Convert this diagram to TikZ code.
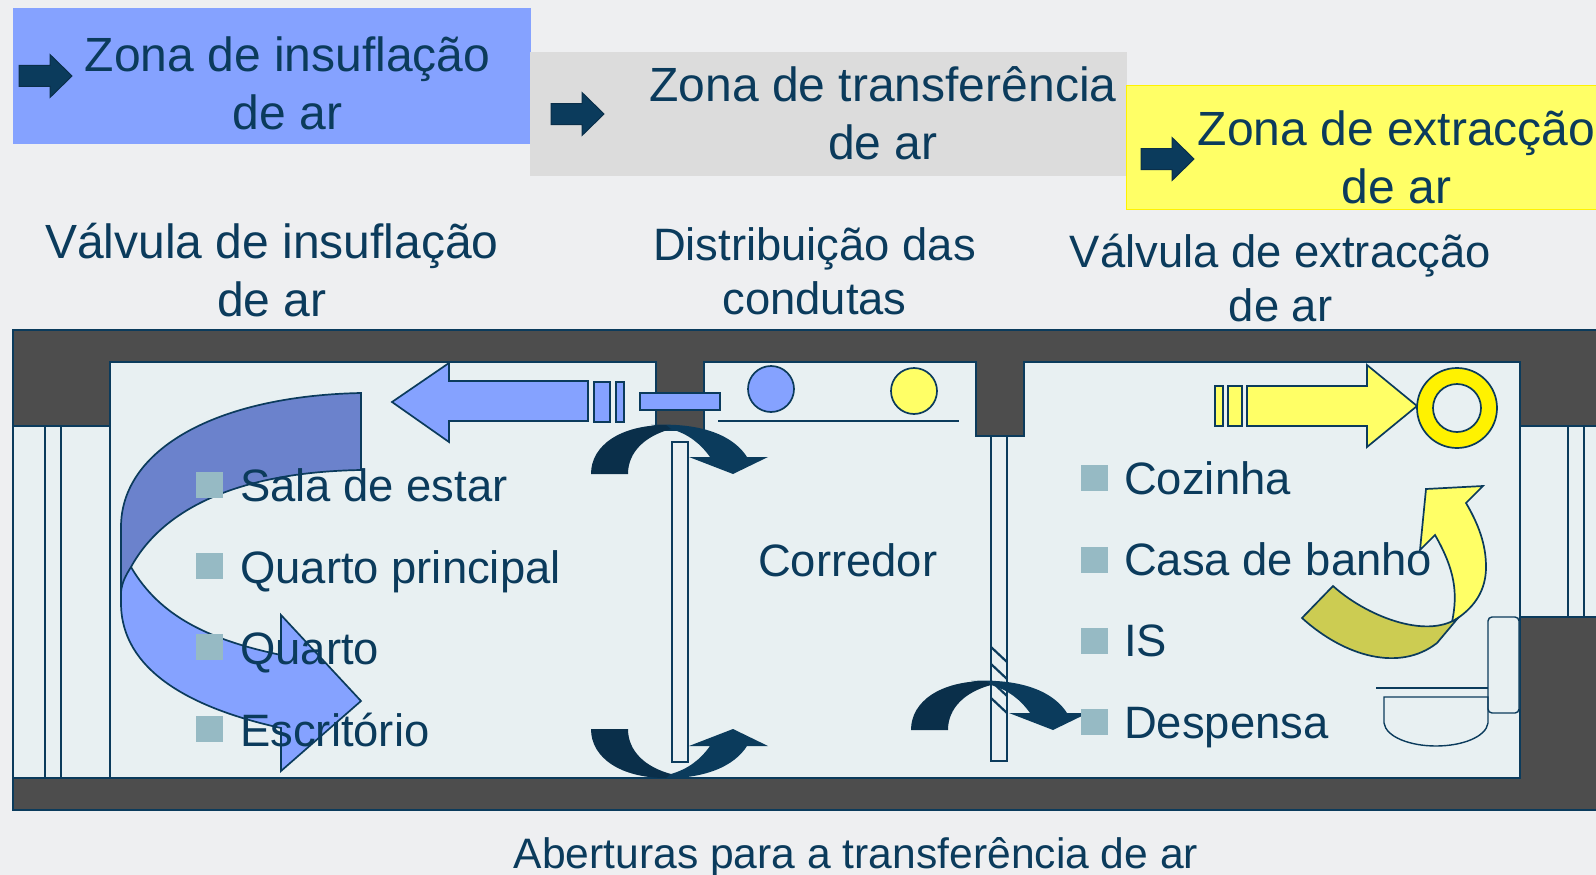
\documentclass[tikz,border=0pt]{standalone}
\usepackage{fontspec}
\setmainfont{Liberation Sans}
\definecolor{bgc}{HTML}{EEEFF1}
\definecolor{roomc}{HTML}{E8F0F2}
\definecolor{wallc}{HTML}{4D4D4D}
\definecolor{inkc}{HTML}{0B3B5C}
\definecolor{inkd}{HTML}{0A2F4A}
\definecolor{bluec}{HTML}{85A2FF}
\definecolor{blued}{HTML}{6B82CC}
\definecolor{grayc}{HTML}{DCDCDC}
\definecolor{yelc}{HTML}{FFFF66}
\definecolor{olivec}{HTML}{CCCC52}
\definecolor{bullc}{HTML}{96BAC4}
\newcommand{\tstr}{\rule[-10pt]{0pt}{46pt}}
\tikzset{
  x=1pt,y=-1pt,
  outl/.style={draw=inkc,line width=1.7pt,line join=miter},
  room/.style={outl,fill=roomc},
  wall/.style={fill=wallc},
  bluep/.style={outl,fill=bluec},
  yelp/.style={outl,fill=yelc},
  bull/.style={fill=bullc},
  big/.style={text=inkc,inner sep=0pt,align=center,font=\fontsize{48}{58}\selectfont},
  mid/.style={text=inkc,inner sep=0pt,align=center,font=\fontsize{45.4}{54}\selectfont},
  lab/.style={text=inkc,inner sep=0pt,anchor=base west,font=\fontsize{45.4}{54}\selectfont},
}
\newcommand{\titlearrow}[2]{%
  \filldraw[fill=inkc,draw=inkd,line width=1pt,shift={(#1,#2)}] (0,-10.5) -- (31,-10.5) -- (31,-21.5) -- (53,0) -- (31,21.5) -- (31,10.5) -- (0,10.5) -- cycle;}
\newcommand{\flowshape}{%
  \fill[inkc] (60,-49) .. controls (115,-52) and (144,-36) .. (156,-17) -- (177,-17) -- (142,0) -- (98,-17) -- (119,-17) .. controls (109,-31) and (97,-40) .. (80,-45) -- cycle;
  \fill[inkd] (0,0) .. controls (0,-29) and (30,-49) .. (75,-49) -- (80,-45) .. controls (54,-38) and (37,-22) .. (37,0) -- cycle;
}
\begin{document}
\begin{tikzpicture}
\useasboundingbox (0,0) rectangle (1596,875);
\fill[bgc] (0,0) rectangle (1596,875);

% zone boxes
\fill[bluec] (13,8) rectangle (531,144);
\fill[grayc] (530,52) rectangle (1127,176);
\filldraw[fill=yelc,draw=yellow,line width=0.8pt] (1126,85) rectangle (1597,209);
\titlearrow{19}{76}
\titlearrow{551}{114}
\titlearrow{1141}{159}

% building
\fill[wall] (13,330) rectangle (1597,810);
\draw[outl] (1597,330) -- (13,330) -- (13,810) -- (1597,810);
\path[room] (110,362) rectangle (1520,778);
\path[room] (13,426) rectangle (110,778);
\draw[outl] (45,426) -- (45,778);
\draw[outl] (61,426) -- (61,778);
\path[outl,fill=roomc] (1597,426) -- (1520,426) -- (1520,617) -- (1597,617);
\draw[outl] (1568,426) -- (1568,617);
\draw[outl] (1584,426) -- (1584,617);
\draw[outl,fill=wallc] (656,362) -- (656,430) -- (704,430) -- (704,362);
\fill[wall] (657,355) rectangle (703,363);
\draw[outl,fill=wallc] (976,362) -- (976,436) -- (1024,436) -- (1024,362);
\fill[wall] (977,355) rectangle (1023,363);
\draw[outl] (718,421) -- (959,421);

% doors
\draw[outl,fill=roomc] (672,442) rectangle (688,762);
\draw[outl,fill=roomc] (991,436) rectangle (1007,761);
\foreach \hy in {647,664,681,698}
  \draw[inkc,line width=2.2pt] (991,\hy) -- (1007,\hy+15);

% supply air
\draw[bluep] (640,393) rectangle (720,410);
\draw[bluep] (616,382) rectangle (624,422);
\draw[bluep] (594,382) rectangle (610,422);
\draw[bluep] (588,381) -- (449,381) -- (449,363) -- (392,402) -- (449,442) -- (449,421) -- (588,421) -- cycle;
\draw[bluep] (771,389) circle (23);
\draw[outl,fill=yelc] (914,391) circle (23);

% big blue curved arrow
\draw[bluep] (131,567) .. controls (160,617) and (210,640) .. (281,655) -- (281,615) -- (361,701) -- (281,771) -- (281,728)
  .. controls (190,708) and (121,670) .. (121,603) -- (121,570) -- cycle;
\draw[outl,fill=blued] (361,393) .. controls (215,396) and (121,450) .. (121,527) -- (121,592) .. controls (122,582) and (126,575) .. (131,567)
  .. controls (165,505) and (245,472) .. (361,470) -- cycle;

% transfer arrows
\begin{scope}[shift={(591,474)}]\flowshape\end{scope}
\begin{scope}[shift={(591,729)},yscale=-1]\flowshape\end{scope}
\begin{scope}[shift={(911,730)}]\flowshape\end{scope}

% extraction
\draw[yelp] (1215,386) rectangle (1223,426);
\draw[yelp] (1228,386) rectangle (1242,426);
\draw[yelp] (1247,386) -- (1367,386) -- (1367,365) -- (1417,406) -- (1367,447) -- (1367,426) -- (1247,426) -- cycle;
\draw[outl,fill=yellow] (1457,408) circle (40);
\path[room] (1457,408) circle (24);

% yellow curved arrow
\draw[yelp] (1452,622) .. controls (1458,593) and (1455,570) .. (1435,535) -- (1420,550) -- (1426,489) -- (1483,486) -- (1466,503)
  .. controls (1482,530) and (1486,550) .. (1486,567) .. controls (1486,590) and (1475,606) .. (1458,618) -- cycle;
\draw[outl,fill=olivec] (1302,618) -- (1333,586) .. controls (1365,615) and (1425,640) .. (1458,618)
  -- (1437,643) .. controls (1400,672) and (1345,657) .. (1302,618) -- cycle;

% toilet
\draw[inkc,line width=1.4pt,fill=roomc,rounded corners=4pt] (1488,617) rectangle (1519,713);
\draw[inkc,line width=1.4pt] (1376,688) -- (1488,688);
\draw[inkc,line width=1.4pt] (1488,697) -- (1384,697) -- (1384,723) .. controls (1386,737) and (1410,746) .. (1436,746) .. controls (1462,746) and (1486,737) .. (1488,723) -- cycle;

% bullets
\foreach \by in {472,553,634,716} \fill[bull] (196,\by) rectangle ++(26.5,25.5);
\foreach \by in {465,547,628,709} \fill[bull] (1081,\by) rectangle ++(26.5,25.5);

% texts
\node[big] (t1) at (287.5,87) {\tstr Zona de insuflação\\\tstr de ar};
\node[big] (t2) at (883,117) {\tstr Zona de transferência\\\tstr de ar};
\node[big] (t3) at (1396.5,161) {\tstr Zona de extracção\\\tstr de ar};
\node[big] (v1) at (272,274) {\tstr Válvula de insuflação\\\tstr de ar};
\node[mid] (d1) at (814.5,274.5) {\tstr Distribuição das\\\tstr condutas};
\node[mid] (v2) at (1280.5,281) {\tstr Válvula de extracção\\\tstr de ar};
\node[text=inkc,inner sep=0pt,anchor=base,font=\fontsize{42.6}{50}\selectfont] (ab) at (856,868) {Aberturas para a transferência de ar};
\node[lab] (l1) at (240,501) {Sala de estar};
\node[lab] (l2) at (240,583) {Quarto principal};
\node[lab] (l3) at (240,664) {Quarto};
\node[lab] (l4) at (240,746) {Escritório};
\node[lab] (c0) at (758,576) {Corredor};
\node[lab] (r1) at (1124,494) {Cozinha};
\node[lab] (r2) at (1124,575) {Casa de banho};
\node[lab] (r3) at (1124,656) {IS};
\node[lab] (r4) at (1124,738) {Despensa};
\end{tikzpicture}
\end{document}
